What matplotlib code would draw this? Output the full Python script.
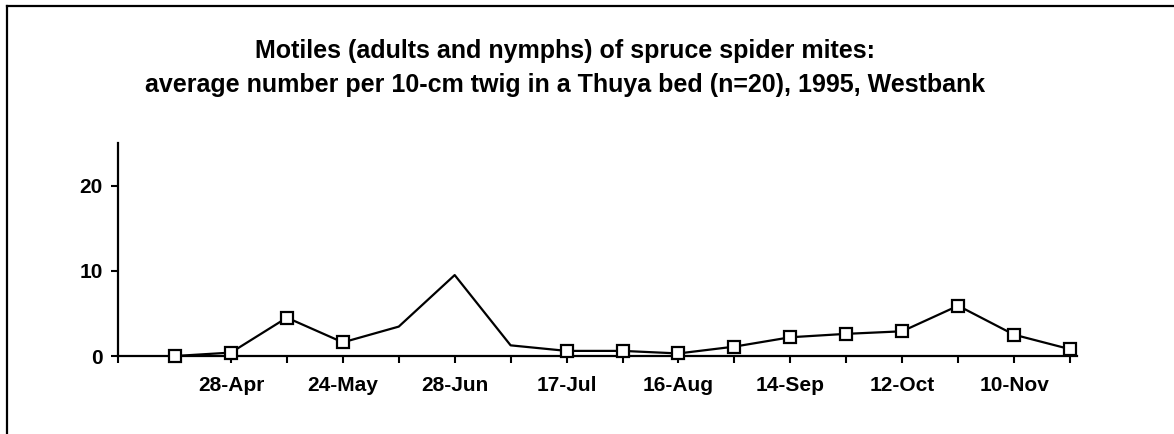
import matplotlib
matplotlib.use("Agg")
import matplotlib.pyplot as plt
from matplotlib.lines import Line2D

plt.rcParams['font.family'] = ['Liberation Sans', 'DejaVu Sans']

# sampling index (evenly spaced dates) and mean counts
idx = list(range(17))
motiles = [0.0, 0.4, 4.5, 1.6, 3.45, 9.5, 1.25, 0.6, 0.6, 0.3,
           1.1, 2.2, 2.6, 2.9, 5.9, 2.5, 0.8]
no_marker = [4, 5, 6]
date_labels = {1: '28-Apr', 3: '24-May', 5: '28-Jun', 7: '17-Jul',
               9: '16-Aug', 11: '14-Sep', 13: '12-Oct', 15: '10-Nov'}
yticks = [0, 10, 20]

title1 = "Motiles (adults and nymphs) of spruce spider mites:"
title2 = "average number per 10-cm twig in a Thuya bed (n=20), 1995, Westbank"

W, H = 1174, 434
fig = plt.figure(figsize=(W / 100, H / 100), dpi=100)
ax = fig.add_axes([118 / W, 1 - 356 / H, (1077 - 118) / W, (356 - 143) / H])

marked = [i for i in idx if i not in no_marker]
ax.plot(idx, motiles, color='black', lw=1.6, marker='s', markevery=marked,
        ms=9.2, mfc='white', mec='black', mew=1.6, clip_on=False, zorder=3)

x0 = -1.019
ax.set_xlim(x0, 16.125)
ax.set_ylim(0, 25)

ax.set_xticks([x0] + idx[1:])
ax.set_xticklabels([''] + [date_labels.get(i, '') for i in idx[1:]],
                   fontsize=15, fontweight='bold')
ax.tick_params(axis='x', length=5, width=1.5, direction='out', pad=9.5)

ax.set_yticks(yticks)
ax.set_yticklabels([str(v) for v in yticks], fontsize=15, fontweight='bold')
ax.tick_params(axis='y', length=5, width=1.5, direction='out', pad=6)

for s in ['top', 'right']:
    ax.spines[s].set_visible(False)
for s in ['left', 'bottom']:
    ax.spines[s].set_linewidth(1.6)

fig.text(565 / W, 1 - 58 / H, title1, ha='center', va='baseline',
         fontsize=18, fontweight='bold')
fig.text(565 / W, 1 - 92 / H, title2, ha='center', va='baseline',
         fontsize=18, fontweight='bold')

# chart border (left and top edges visible)
fig.add_artist(Line2D([7 / W, 7 / W], [0, 1 - 6 / H], color='black', lw=1.6))
fig.add_artist(Line2D([7 / W, 1], [1 - 6 / H, 1 - 6 / H], color='black', lw=1.6))

fig.savefig('out.png', dpi=100)
